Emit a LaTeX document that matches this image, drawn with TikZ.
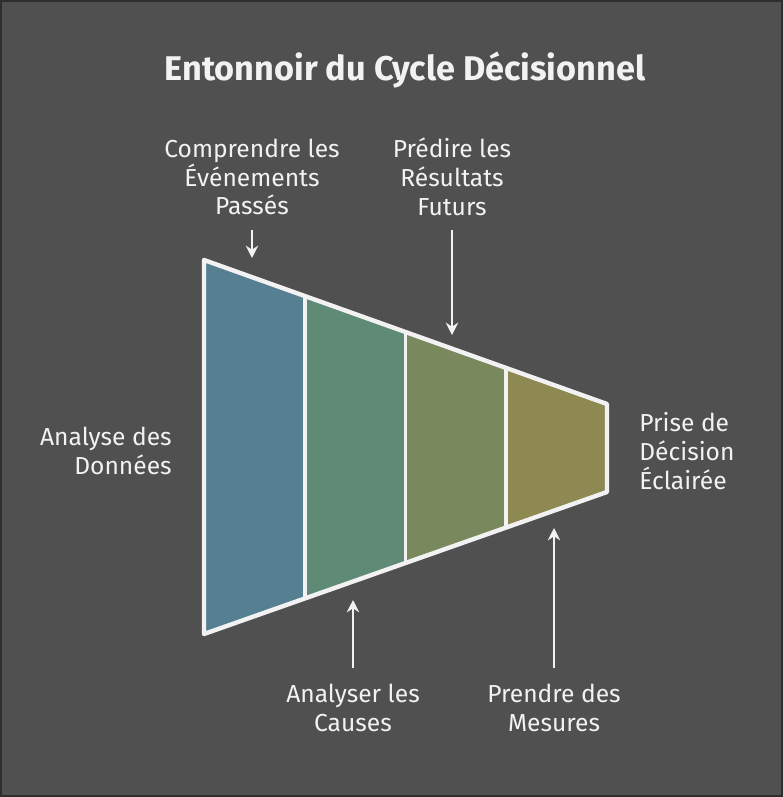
\documentclass[tikz,border=0pt]{standalone}
\usepackage{fontspec}
\setmainfont{Fira Sans}
\usetikzlibrary{calc,arrows.meta}
\definecolor{bgcol}{HTML}{505050}
\definecolor{framecol}{HTML}{2E2E2E}
\definecolor{inkcol}{HTML}{F2F2F2}
\definecolor{stageA}{HTML}{568092}
\definecolor{stageB}{HTML}{5F8B76}
\definecolor{stageC}{HTML}{7A885E}
\definecolor{stageD}{HTML}{8E8853}
\tikzset{
  lbl/.style={text=inkcol, font=\fontsize{14}{16.4}\selectfont, inner sep=0pt},
  pointer/.style={draw=inkcol, line width=1.4pt, -{Stealth[length=7pt,width=7pt]}},
  rim/.style={draw=inkcol, line width=2.5pt, line join=round},
}
\begin{document}
\begin{tikzpicture}[x=0.02cm, y=-0.02cm]
            \useasboundingbox (0,0) rectangle (783,797);
            % Background
            \draw[fill=bgcol, draw=framecol, line width=1.2pt] (1,1) rectangle (782,796);

            % Funnel
            \coordinate (tl) at (204,260);
            \coordinate (tr) at (607,404);
            \coordinate (br) at (607,492);
            \coordinate (bl) at (204,634);
            \foreach \a/\b/\c in {0/0.25/stageA, 0.25/0.5/stageB, 0.5/0.75/stageC, 0.75/1/stageD}
              \fill[\c] ($(tl)!\a!(tr)$) -- ($(tl)!\b!(tr)$) -- ($(bl)!\b!(br)$) -- ($(bl)!\a!(br)$) -- cycle;
            \draw[rim] (tl) -- (tr) -- (br) -- (bl) -- cycle;
            \foreach \t in {0.25,0.5,0.75}
              \draw[rim, line width=2.1pt] ($(tl)!\t!(tr)$) -- ($(bl)!\t!(br)$);

            % Labels
            \node[lbl, font=\bfseries\fontsize{19.5}{22}\selectfont] (title) at (405,70) {Entonnoir du Cycle Décisionnel};
            \node[lbl, align=center] (past) at (252,177) {Comprendre les\\Événements\\Passés};
            \node[lbl, align=center] (future) at (452,177) {Prédire les\\Résultats\\Futurs};
            \node[lbl, align=right, anchor=east] (data) at (172,451) {Analyse des\\Données};
            \node[lbl, align=left, anchor=west] (decision) at (639,451) {Prise de\\Décision\\Éclairée};
            \node[lbl, align=center] (causes) at (353,708) {Analyser les\\Causes};
            \node[lbl, align=center] (action) at (554,708) {Prendre des\\Mesures};

            % Arrows
            \coordinate (pastTip) at (252,258);
            \coordinate (futureTip) at (452,335);
            \coordinate (causesTip) at (353,600);
            \coordinate (actionTip) at (554,528);
            \draw[pointer, shorten <=8pt] (past) -- (pastTip);
            \draw[pointer, shorten <=8pt] (future) -- (futureTip);
            \draw[pointer, shorten <=9pt] (causes) -- (causesTip);
            \draw[pointer, shorten <=9pt] (action) -- (actionTip);
\end{tikzpicture}
\end{document}
